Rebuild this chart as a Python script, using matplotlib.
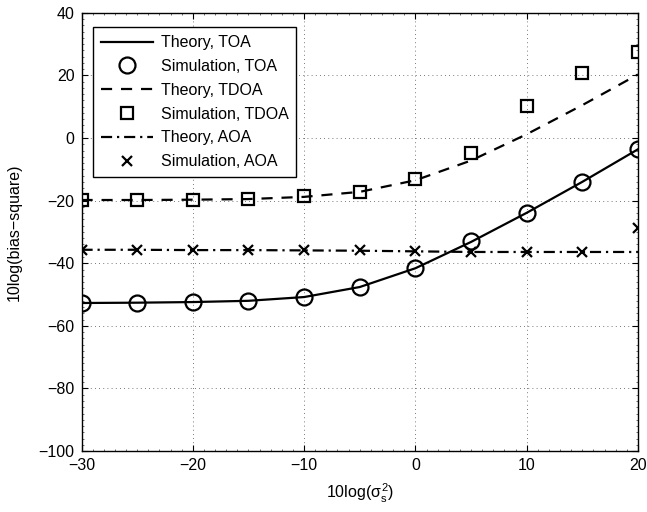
import matplotlib
matplotlib.use('Agg')
import matplotlib.pyplot as plt
from matplotlib.ticker import MultipleLocator
import numpy as np

plt.rcParams['font.family'] = ['Liberation Sans', 'DejaVu Sans']
plt.rcParams['mathtext.fontset'] = 'custom'
plt.rcParams['mathtext.rm'] = 'Liberation Sans'
plt.rcParams['mathtext.it'] = 'Liberation Sans'

snr = [-30, -25, -20, -15, -10, -5, 0, 5, 10, 15, 20]

toa_theory = [-52.7, -52.6, -52.4, -52.0, -50.8, -47.6, -41.6, -33.2, -23.9, -14.0, -3.6]
toa_sim = [-52.7, -52.7, -52.5, -52.0, -50.8, -47.6, -41.6, -32.9, -23.8, -14.0, -3.4]

tdoa_theory = [-19.8, -19.8, -19.7, -19.5, -18.8, -17.2, -13.5, -7.2, 1.2, 10.5, 20.3]
tdoa_sim = [-19.7, -19.7, -19.7, -19.5, -18.6, -17.2, -13.2, -4.7, 10.1, 20.7, 27.4]

aoa_theory = [-35.7, -35.7, -35.8, -35.8, -35.9, -36.0, -36.2, -36.4, -36.4, -36.4, -36.4]
aoa_sim = [-35.8, -35.8, -35.8, -35.8, -35.8, -35.9, -36.2, -36.4, -36.4, -36.4, -28.7]

fig = plt.figure(figsize=(6.47, 5.12), dpi=100)
ax = fig.add_axes([0.126, 0.119, 0.860, 0.856])

lw = 1.6
ax.plot(snr, toa_theory, 'k-', lw=lw, label='Theory, TOA')
ax.plot(snr, toa_sim, 'ko', ms=11.5, mfc='none', mew=1.6, label='Simulation, TOA')
ax.plot(snr, tdoa_theory, 'k', lw=lw, dashes=(5, 4), label='Theory, TDOA')
ax.plot(snr, tdoa_sim, 'ks', ms=8, mfc='none', mew=1.6, label='Simulation, TDOA')
ax.plot(snr, aoa_theory, 'k', lw=lw, dashes=(5, 2.2, 1, 2.2), label='Theory, AOA')
ax.plot(snr, aoa_sim, 'kx', ms=7, mew=1.6, label='Simulation, AOA')

ax.set_xlim(-30, 20)
ax.set_ylim(-100, 40)
ax.xaxis.set_major_locator(MultipleLocator(10))
ax.yaxis.set_major_locator(MultipleLocator(20))
ax.xaxis.set_minor_locator(MultipleLocator(1))
ax.yaxis.set_minor_locator(MultipleLocator(2))
ax.tick_params(which='both', direction='in', top=True, right=True, labelsize=11.5)
ax.tick_params(which='major', length=4, pad=5)
ax.tick_params(which='minor', length=1.5, width=0.4)
ax.grid(True, which='major', color='0.3', lw=0.6, dashes=(1, 4))
for s in ax.spines.values():
    s.set_linewidth(1.0)

ax.set_xlabel(r'10log($\sigma_s^2$)', fontsize=11.5, labelpad=6)
ax.set_ylabel('10log(bias\u2212square)', fontsize=11.5, labelpad=12)

leg = ax.legend(loc='upper left', bbox_to_anchor=(0.02, 0.967), fontsize=11.5,
                fancybox=False, edgecolor='k', framealpha=1, handlelength=3.3,
                borderaxespad=0, labelspacing=0.55, handletextpad=0.45,
                borderpad=0.5)
leg.get_frame().set_linewidth(1.0)

fig.savefig('out.png', dpi=100)
